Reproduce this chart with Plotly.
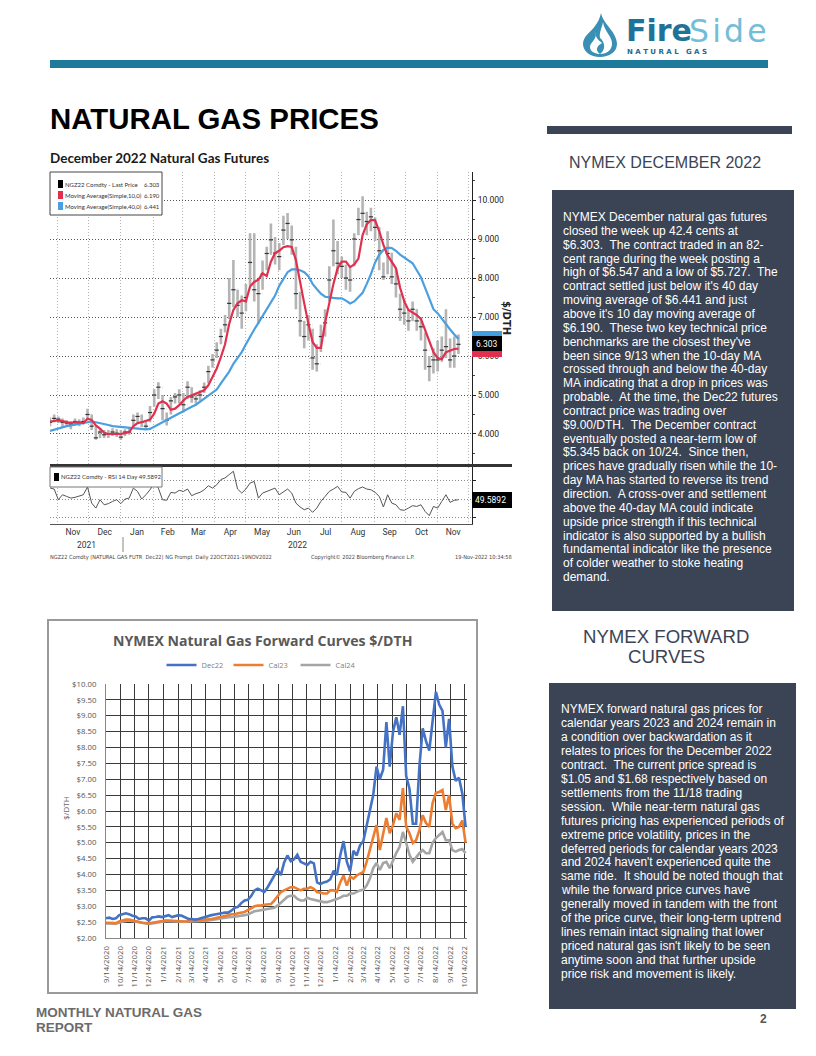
import pandas as pd
import plotly.graph_objects as go

# ---------- data: December 2022 futures ----------
fut_close = [4.30,4.40,4.38,4.30,4.28,4.25,4.32,4.30,4.32,4.50,
 4.20,3.90,4.05,3.98,4.00,4.05,4.02,3.92,4.05,4.05,
 4.35,4.45,4.30,4.20,4.55,5.00,5.20,4.65,4.35,4.85,
 4.95,5.00,4.75,5.20,4.95,4.90,5.00,5.20,5.60,5.90,
 6.15,6.50,6.80,7.35,7.70,7.30,7.10,7.50,8.40,7.70,
 7.60,8.10,8.63,8.98,8.64,8.55,9.23,9.40,8.98,7.60,
 6.90,6.50,6.80,5.95,5.80,6.50,6.85,7.95,8.70,8.38,
 8.30,8.00,7.95,9.00,9.50,9.66,9.45,9.57,9.30,8.70,
 8.03,8.63,8.03,7.85,7.20,7.10,6.90,7.20,6.90,6.75,
 6.15,5.73,5.90,5.90,6.15,6.24,5.90,6.00,6.30]
fut_high = [4.42,4.50,4.45,4.40,4.35,4.33,4.40,4.38,4.42,4.65,
 4.50,4.20,4.15,4.10,4.10,4.15,4.12,4.10,4.12,4.15,
 4.50,4.55,4.50,4.35,4.72,5.15,5.33,5.00,4.55,4.95,
 5.05,5.15,5.05,5.35,5.20,5.05,5.12,5.32,5.75,6.05,
 6.35,6.70,7.05,8.00,8.46,7.70,7.55,7.85,9.15,9.15,
 7.95,8.45,8.80,9.40,9.05,8.90,9.60,9.67,9.35,8.80,
 7.65,6.90,7.05,6.70,6.30,6.80,7.20,8.30,9.50,8.95,
 8.55,8.35,8.30,9.15,9.80,10.10,9.70,9.80,9.55,9.30,
 8.40,9.20,8.65,8.25,7.60,7.45,7.20,7.40,7.20,7.00,
 6.60,6.00,6.20,6.40,6.50,7.20,6.45,6.50,6.55]
fut_low = [4.20,4.30,4.28,4.18,4.18,4.12,4.22,4.20,4.24,4.35,
 4.10,3.85,3.90,3.90,3.90,3.95,3.92,3.85,3.95,3.98,
 4.15,4.30,4.18,4.12,4.30,4.70,4.90,4.35,4.22,4.50,
 4.78,4.78,4.55,4.90,4.80,4.78,4.85,5.05,5.30,5.70,
 5.95,6.30,6.60,6.95,7.25,7.00,6.70,7.15,7.80,7.40,
 6.83,7.70,8.20,8.60,8.35,8.20,8.85,9.00,8.60,7.20,
 6.50,6.20,6.40,5.65,5.60,6.10,6.50,7.40,8.30,8.10,
 8.00,7.70,7.65,8.30,9.10,9.30,9.10,9.20,8.95,8.20,
 7.95,8.10,7.85,7.50,6.90,6.80,6.65,6.90,6.65,6.40,
 5.65,5.35,5.55,5.60,5.85,5.95,5.70,5.70,6.05]
ma10 = [4.32,4.33,4.35,4.33,4.30,4.28,4.30,4.30,4.28,4.39,
 4.36,4.22,4.14,4.03,4.00,4.00,4.00,4.00,4.02,4.05,
 4.20,4.28,4.30,4.33,4.37,4.52,4.78,4.84,4.78,4.62,
 4.65,4.74,4.86,4.95,4.99,5.05,5.08,5.12,5.25,5.46,
 5.68,5.97,6.30,6.83,7.18,7.35,7.43,7.40,7.78,7.90,
 7.96,8.12,8.05,8.42,8.64,8.70,8.79,8.82,8.80,8.46,
 7.95,7.35,6.83,6.36,6.21,6.21,6.85,7.35,7.85,8.25,
 8.42,8.42,8.28,8.35,8.50,9.10,9.38,9.49,9.48,9.20,
 8.85,8.58,8.40,8.25,7.75,7.40,7.18,7.12,7.05,6.95,
 6.65,6.40,6.10,5.95,5.92,6.10,6.15,6.18,6.19]
ma40 = [4.08,4.11,4.15,4.18,4.20,4.22,4.24,4.26,4.28,4.30,
 4.32,4.30,4.28,4.26,4.23,4.20,4.19,4.18,4.17,4.16,
 4.15,4.14,4.13,4.12,4.13,4.18,4.24,4.30,4.36,4.42,
 4.48,4.52,4.58,4.64,4.70,4.75,4.83,4.92,5.00,5.06,
 5.14,5.30,5.45,5.60,5.80,5.95,6.10,6.30,6.50,6.68,
 6.85,7.03,7.20,7.38,7.55,7.80,7.98,8.15,8.22,8.22,
 8.20,8.15,8.05,7.85,7.72,7.60,7.52,7.50,7.49,7.48,
 7.48,7.42,7.35,7.40,7.50,7.62,7.85,8.10,8.40,8.60,
 8.72,8.78,8.77,8.70,8.60,8.52,8.45,8.38,8.20,8.02,
 7.75,7.45,7.20,7.10,6.95,6.82,6.68,6.55,6.44]
rsi14 = [56,55.4,49.6,52.3,51.4,50.5,50.9,51.4,52.3,56.5,
 47.8,45.1,49.6,46.9,47.5,48.7,49.6,47.5,50,50.5,
 55.9,54.1,50,52.3,55,58.6,55.9,49.6,49.3,53.6,
 53.2,54.7,54.1,55.4,51.8,52.9,53.6,55,57.2,55.9,
 57.7,60.5,61.4,63.2,65,55.4,53.2,55.4,58.6,59.5,
 50.5,53.2,54.1,54.7,55.9,52.3,54.1,55.4,53.2,47.8,
 45.7,44.2,45.1,42.8,45.1,48.7,51.4,54.1,55.4,56.8,
 53.8,53.6,50.5,54.1,55.6,56.5,55.4,55,53.6,51.4,
 45.7,52.3,47.8,46.9,44.2,43.9,45.1,46.4,46,46.9,
 43.3,41,46,45.1,48.7,52.3,48.2,49.3,49.6]
fut_dates = pd.date_range("2021-10-25", periods=len(fut_close), freq="4D")
fut_open = [fut_close[0]] + fut_close[:-1]
price_ticks = [4, 5, 6, 7, 8, 9, 10]

# ---------- data: forward curves ----------
dec22 = [2.62,2.64,2.60,2.62,2.72,2.76,2.78,2.75,2.70,2.68,
 2.60,2.62,2.62,2.55,2.65,2.66,2.68,2.66,2.70,2.72,
 2.66,2.68,2.72,2.70,2.64,2.60,2.60,2.58,2.60,2.63,
 2.68,2.70,2.72,2.74,2.77,2.78,2.80,2.80,2.86,2.95,
 2.98,3.10,3.18,3.20,3.32,3.50,3.55,3.50,3.45,3.60,3.80,4.00,
 4.15,3.98,4.38,4.60,4.42,4.48,4.62,4.40,4.35,4.30,
 4.40,4.35,3.75,3.70,3.75,3.78,3.85,4.12,3.98,4.60,
 5.05,4.40,4.10,4.75,4.60,4.92,5.05,5.55,5.95,6.50,
 7.40,7.00,7.30,8.80,7.40,8.50,8.95,8.40,9.30,7.10,
 6.70,5.60,5.60,7.40,8.60,8.20,7.90,8.80,9.75,9.35,
 9.15,8.00,8.90,7.40,6.95,7.05,6.55,5.50]
cal23 = [2.48,2.47,2.46,2.47,2.52,2.55,2.58,2.58,2.55,2.53,
 2.50,2.48,2.47,2.46,2.48,2.50,2.52,2.54,2.55,2.55,
 2.54,2.53,2.52,2.52,2.52,2.53,2.54,2.55,2.55,2.56,
 2.56,2.58,2.60,2.62,2.64,2.66,2.70,2.72,2.75,2.75,
 2.78,2.80,2.82,2.88,2.95,3.00,3.02,3.02,3.05,3.05,3.07,3.18,
 3.33,3.45,3.50,3.55,3.60,3.60,3.55,3.50,3.55,3.55,
 3.60,3.55,3.45,3.42,3.40,3.40,3.50,3.50,3.45,3.75,
 3.97,3.65,3.93,3.87,3.97,4.03,4.08,4.40,4.78,5.10,
 5.56,4.77,5.30,5.78,5.30,5.56,5.93,5.72,6.72,5.50,
 5.30,4.99,5.08,5.40,5.87,5.62,5.50,6.25,6.57,6.60,
 6.66,6.03,6.50,5.60,5.46,5.50,5.70,5.00]
cal24 = [2.46,2.45,2.44,2.45,2.48,2.52,2.54,2.55,2.53,2.51,
 2.48,2.46,2.45,2.44,2.46,2.48,2.50,2.52,2.53,2.53,
 2.52,2.52,2.51,2.51,2.51,2.52,2.52,2.53,2.53,2.54,
 2.54,2.55,2.56,2.58,2.60,2.62,2.64,2.65,2.66,2.67,
 2.68,2.70,2.72,2.74,2.80,2.84,2.86,2.88,2.90,2.90,2.92,2.95,
 3.02,3.12,3.23,3.30,3.33,3.33,3.23,3.18,3.18,3.27,
 3.23,3.20,3.18,3.15,3.13,3.13,3.16,3.18,3.23,3.27,
 3.33,3.33,3.40,3.40,3.45,3.50,3.52,3.65,3.87,4.20,
 4.36,4.14,4.36,4.40,4.20,4.46,4.68,4.87,5.34,5.00,
 4.62,4.40,4.55,4.67,4.77,4.67,4.67,5.00,5.15,5.25,
 5.34,5.08,5.08,4.77,4.72,4.77,4.80,4.67]
fwd_dates = pd.date_range("2020-09-14", periods=len(dec22), freq="7D")

# ---------- text ----------
left_legend = [("NGZ22 Comdty - Last Price", "6.303", "#000000"),
               ("Moving Average(Simple,10,0)", "6.190", "#e0304e"),
               ("Moving Average(Simple,40,0)", "6.441", "#4a9fe0")]
para1 = ["NYMEX December natural gas futures","closed the week up 42.4 cents at",
"$6.303.  The contract traded in an 82-","cent range during the week posting a",
"high of $6.547 and a low of $5.727.  The","contract settled just below it's 40 day",
"moving average of $6.441 and just","above it's 10 day moving average of",
"$6.190.  These two key technical price","benchmarks are the closest they've",
"been since 9/13 when the 10-day MA","crossed through and below the 40-day",
"MA indicating that a drop in prices was","probable.  At the time, the Dec22 futures",
"contract price was trading over","$9.00/DTH.  The December contract",
"eventually posted a near-term low of","$5.345 back on 10/24.  Since then,",
"prices have gradually risen while the 10-","day MA has started to reverse its trend",
"direction.  A cross-over and settlement","above the 40-day MA could indicate",
"upside price strength if this technical","indicator is also supported by a bullish",
"fundamental indicator like the presence","of colder weather to stoke heating","demand."]
para2 = ["NYMEX forward natural gas prices for","calendar years 2023 and 2024 remain in",
"a condition over backwardation as it","relates to prices for the December 2022",
"contract.  The current price spread is","$1.05 and $1.68 respectively based on",
"settlements from the 11/18 trading","session.  While near-term natural gas",
"futures pricing has experienced periods of","extreme price volatility, prices in the",
"deferred periods for calendar years 2023","and 2024 haven't experienced quite the",
"same ride.  It should be noted though that","while the forward price curves have",
"generally moved in tandem with the front","of the price curve, their long-term uptrend",
"lines remain intact signaling that lower","priced natural gas isn't likely to be seen",
"anytime soon and that further upside","price risk and movement is likely."]

W, H = 816, 1056
def fx(p): return p / W
def fy(p): return 1 - p / H

annots, shapes = [], []
def T(x, y, s, size=12, color="#000", family="Liberation Sans", anchor="left", bold=False, angle=0):
    annots.append(dict(x=fx(x), y=fy(y), xref="paper", yref="paper", showarrow=False,
                       text=f"<b>{s}</b>" if bold else s, xanchor=anchor, yanchor="middle",
                       textangle=angle, align=anchor,
                       font=dict(size=size, color=color, family=family),
                       borderpad=0, borderwidth=0))
def R(x0, y0, x1, y1, fill=None, line=None, lw=0, layer="above"):
    shapes.append(dict(type="rect", xref="paper", yref="paper", x0=fx(x0), x1=fx(x1), y0=fy(y1), y1=fy(y0),
                       fillcolor=fill or "rgba(0,0,0,0)", line=dict(color=line or "rgba(0,0,0,0)", width=lw), layer=layer))
def PATH(parts, fill):
    out = []
    for c, pts in parts:
        out.append(c + " " + " ".join(f"{fx(a):.5f},{fy(b):.5f}" for a, b in pts))
    shapes.append(dict(type="path", xref="paper", yref="paper", path=" ".join(out) + " Z", fillcolor=fill, line=dict(width=0), layer="above"))

NARROW = "DejaVu Sans Condensed"
DARK = "#3b4454"

# page furniture
R(50, 60, 768, 68, fill="#1e7a9a")
T(50, 119, "NATURAL GAS PRICES", size=29.4, bold=True)
R(547, 126, 792, 134, fill=DARK)
T(665, 162, "NYMEX DECEMBER 2022", size=16, color=DARK, anchor="center")
R(552, 190, 794, 611, fill=DARK)
for i, line in enumerate(para1):
    T(563, 217 + i * 13.85, line, size=12, color="#ffffff")
T(666, 636, "NYMEX FORWARD", size=18.6, color=DARK, anchor="center")
T(666, 656, "CURVES", size=18.6, color=DARK, anchor="center")
R(549, 683, 796, 1009, fill=DARK)
for i, line in enumerate(para2):
    T(561, 709 + i * 13.95, line, size=12, color="#ffffff")
T(36, 1012, "MONTHLY NATURAL GAS", size=13.5, color="#6b6b6b", bold=True)
T(36, 1027, "REPORT", size=13.5, color="#6b6b6b", bold=True)
T(763, 1019, "2", size=12, color="#555555", bold=True, anchor="center")

# logo
PATH([("M", [(601, 13)]), ("C", [(603, 24), (617, 32), (617, 44)]), ("C", [(617, 52), (609, 57), (600, 57)]),
      ("C", [(590, 57), (583, 51), (583, 44)]), ("C", [(583, 36), (591, 32), (595, 26)]), ("C", [(598, 22), (600, 18), (601, 13)])], "#3a8fb4")
PATH([("M", [(603, 22)]), ("C", [(604, 31), (613, 37), (612, 45)]), ("C", [(611, 51), (606, 54), (600, 54)]),
      ("C", [(607, 49), (604, 41), (600, 38)]), ("C", [(599, 32), (602, 28), (603, 22)])], "#ffffff")
PATH([("M", [(596, 32)]), ("C", [(597, 40), (590, 42), (590, 47)]), ("C", [(590, 52), (596, 54), (600, 54)]),
      ("C", [(594, 50), (598, 45), (602, 43)]), ("C", [(598, 40), (595, 37), (596, 32)])], "#ffffff")
T(626, 31, "Fire", size=30, color="#1f7398", family="DejaVu Sans", bold=True)
T(689, 31, "S\u200ai\u200ad\u200ae", size=31.5, color="#74bdd8", family="DejaVu Sans")
T(627, 52, "N A T U R A L   G A S", size=7, color="#1f6a8a", family="DejaVu Sans", bold=True)

# chart 1 text & furniture
T(50, 158, "December 2022 Natural Gas Futures", size=13.5, color="#1a1a1a", family="Lato", bold=True)
R(50, 172, 162, 215, fill="rgba(255,255,255,0.95)", line="#444444", lw=1)
for i, (name, val, col) in enumerate(left_legend):
    y = 184 + i * 11
    R(58, y - 4, 63, y + 4, fill=col)
    T(65, y, name, size=6, color="#333333", family="Lato")
    T(160, y, val, size=6, color="#333333", family="Lato", anchor="right")
R(50, 464, 512, 467, fill="#333333")
R(50, 467, 162, 487, fill="#ffffff", line="#777777", lw=1)
R(54, 473, 59, 481, fill="#000000")
T(61, 477, "NGZ22 Comdty - RSI 14 Day 49.5892", size=6, color="#333333", family="Lato")
T(507, 318, "$/DTH", size=10, color="#222222", family="DejaVu Sans", bold=True, angle=90, anchor="center")
R(472, 331, 502, 337, fill="#3f9fe0")
R(472, 350, 502, 357, fill="#e0304e")
R(472, 336, 502, 351, fill="#000000")
T(476, 344, "6.303", size=8.5, color="#ffffff", family="Roboto")
R(472, 492, 512, 508, fill="#000000")
T(475, 500, "49.5892", size=8.5, color="#ffffff", family="Roboto")
T(86, 545, "2021", size=8.5, color="#333333", family="Roboto", anchor="center")
T(297, 545, "2022", size=8.5, color="#333333", family="Roboto", anchor="center")
T(50, 557, "NGZ22 Comdty (NATURAL GAS FUTR  Dec22) NG Prompt  Daily 22OCT2021-19NOV2022", size=5.6, color="#444444", family=NARROW)
T(311, 557, "Copyright\u00a9 2022 Bloomberg Finance L.P.", size=5.6, color="#444444", family=NARROW)
T(512, 557, "19-Nov-2022 10:34:58", size=5.6, color="#444444", family=NARROW, anchor="right")
shapes.append(dict(type="line", xref="paper", yref="paper", x0=fx(123), x1=fx(123), y0=fy(552), y1=fy(537), line=dict(color="#888888", width=1), layer="above"))

# chart 2 frame & text
R(48, 620, 477, 993, line="#9a9a9a", lw=2, layer="below")
T(262, 640, "NYMEX Natural Gas Forward Curves $/DTH", size=14.1, color="#595959", family="Open Sans", bold=True, anchor="center")
T(65, 808, "$/DTH", size=8, color="#666666", family="Open Sans", angle=-90, anchor="center")

fig = go.Figure()
fig.add_trace(go.Ohlc(x=fut_dates, open=fut_open, high=fut_high, low=fut_low, close=fut_close,
                      increasing_line_color="#b4b4b4", decreasing_line_color="#b4b4b4",
                      line_width=2.6, tickwidth=0.05, showlegend=False, xaxis="x", yaxis="y", hoverinfo="skip"))
fig.add_trace(go.Scatter(x=fut_dates, y=fut_close, mode="markers", marker=dict(symbol="line-ew", size=3, line=dict(width=1.2, color="#333333")),
                         showlegend=False, xaxis="x", yaxis="y"))
fig.add_trace(go.Scatter(x=fut_dates, y=ma40, mode="lines", line=dict(color="#4a9fe0", width=2.2), showlegend=False, xaxis="x", yaxis="y"))
fig.add_trace(go.Scatter(x=fut_dates, y=ma10, mode="lines", line=dict(color="#e0304e", width=2.2), showlegend=False, xaxis="x", yaxis="y"))
fig.add_trace(go.Scatter(x=fut_dates, y=rsi14, mode="lines", line=dict(color="#555555", width=1), showlegend=False, xaxis="x2", yaxis="y2"))
fig.add_trace(go.Scatter(x=fwd_dates, y=cal24, mode="lines", name="Cal24", line=dict(color="#a5a5a5", width=2.6), xaxis="x3", yaxis="y3"))
fig.add_trace(go.Scatter(x=fwd_dates, y=cal23, mode="lines", name="Cal23", line=dict(color="#ed7d31", width=2.6), xaxis="x3", yaxis="y3"))
fig.add_trace(go.Scatter(x=fwd_dates, y=dec22, mode="lines", name="Dec22", line=dict(color="#4472c4", width=2.6), xaxis="x3", yaxis="y3"))

fut_range = ["2021-10-25", "2022-12-04"]
grid = dict(griddash="1px,2px", gridcolor="#b5b5b5", gridwidth=1.2, zeroline=False)
fig.update_layout(
    width=W, height=H, margin=dict(l=0, r=0, t=0, b=0, autoexpand=False), autosize=False,
    paper_bgcolor="#ffffff", plot_bgcolor="rgba(0,0,0,0)",
    font=dict(family="Liberation Sans"),
    xaxis=dict(domain=[fx(50), fx(472)], range=fut_range, type="date", anchor="y", rangeslider=dict(visible=False),
               dtick="M1", tick0="2021-11-01", showticklabels=False, ticks="", showline=False, **grid),
    yaxis=dict(domain=[fy(464), fy(172)], range=[3.23, 10.72], side="right", anchor="x", tickvals=price_ticks,
               tickformat=".3f", ticks="outside", ticklen=3, tickcolor="#222", showline=True, linecolor="#222", linewidth=1,
               minor=dict(ticks="outside", ticklen=2, dtick=0.5, tickcolor="#444"),
               tickfont=dict(size=8.5, color="#222", family="Roboto"), griddash="1px,2px", gridcolor="#555555", gridwidth=1.2, zeroline=False),
    xaxis2=dict(domain=[fx(50), fx(472)], range=fut_range, type="date", anchor="y2",
                dtick="M1", tick0="2021-11-01", ticklabelmode="period", tickformat="%b", ticks="",
                tickfont=dict(size=8.5, color="#333", family="Roboto"), showline=True, linecolor="#555", linewidth=1, **grid),
    yaxis2=dict(domain=[fy(524), fy(467)], range=[36.5, 67.3], side="right", anchor="x2", tickvals=[40, 50, 60],
                showticklabels=False, ticks="outside", ticklen=3, tickcolor="#222", showline=True, linecolor="#222", linewidth=1,
                griddash="1px,2px", gridcolor="#8a8a8a", gridwidth=1.2, zeroline=False),
    xaxis3=dict(domain=[fx(106), fx(467)], range=["2020-09-14", "2022-10-20"], type="date", anchor="y3",
                dtick="M1", tick0="2020-09-14", tickformat="%-m/%-d/%Y", tickangle=-90, ticks="", ticklabelstandoff=4,
                tickfont=dict(size=7.8, color="#555555", family="Open Sans"),
                showgrid=True, gridcolor="#3a3a3a", gridwidth=1.4, showline=True, linecolor="#888", zeroline=False),
    yaxis3=dict(domain=[fy(938), fy(684)], range=[2, 10], anchor="x3", dtick=0.5, tick0=2, tickformat="$.2f", ticklabelstandoff=7,
                tickfont=dict(size=7.8, color="#555555", family="Open Sans"), ticks="",
                showgrid=True, gridcolor="#3a3a3a", gridwidth=1.4, showline=True, linecolor="#888", zeroline=False),
    legend=dict(orientation="h", x=fx(262), y=fy(665), xanchor="center", yanchor="middle", traceorder="reversed",
                font=dict(size=7.5, color="#7f7f7f", family="Open Sans"), itemwidth=30, entrywidth=22, entrywidthmode="pixels",
                bgcolor="rgba(0,0,0,0)"),
    annotations=annots, shapes=shapes, hovermode=False,
)
fig.write_html("out.html", config={"displayModeBar": False},
               post_script="document.body.style.margin='0';document.documentElement.style.overflow='hidden';")
